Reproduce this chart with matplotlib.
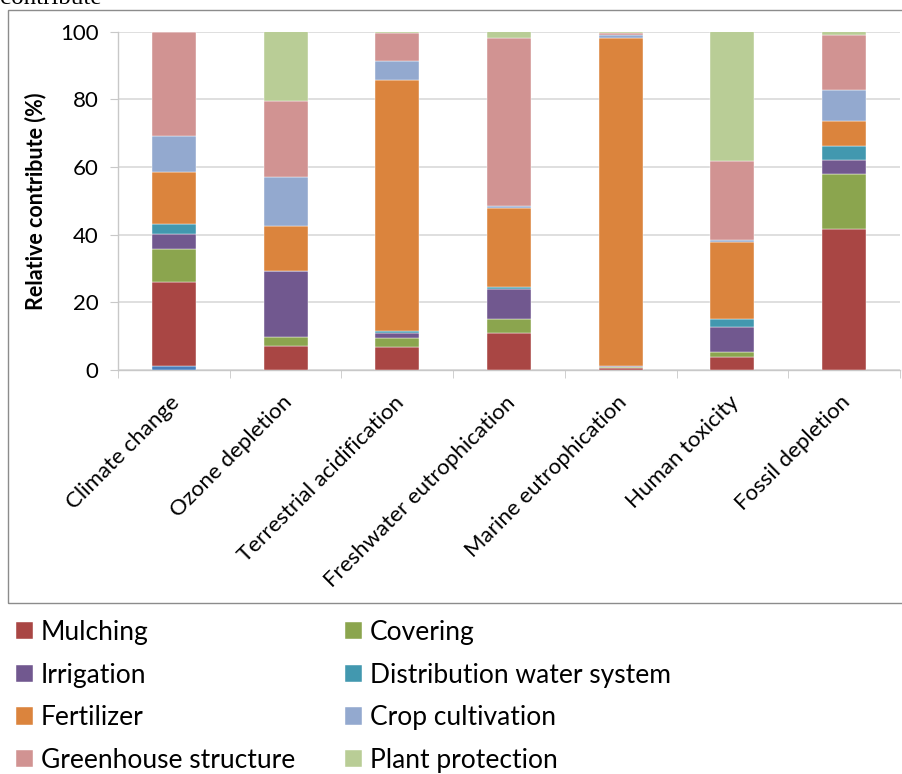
import matplotlib
matplotlib.use("Agg")
import matplotlib.pyplot as plt
import matplotlib.patches as mpatches
import matplotlib.transforms as mtransforms
import numpy as np

plt.rcParams['font.family'] = ['Lato', 'DejaVu Sans']

categories = ["Climate change", "Ozone depletion", "Terrestrial acidification",
              "Freshwater eutrophication", "Marine eutrophication",
              "Human toxicity", "Fossil depletion"]

# contribution of each phase (%), stacked bottom to top
other = [1.2, 0, 0, 0, 0, 0, 0]
mulching = [24.8, 7.1, 6.9, 10.8, 0.7, 3.7, 41.8]
covering = [9.7, 2.7, 2.6, 4.2, 0.3, 1.6, 16.1]
irrigation = [4.4, 19.4, 1.3, 9.0, 0.1, 7.5, 4.1]
distribution = [3.0, 0.0, 0.6, 0.4, 0.0, 2.4, 4.2]
fertilizer = [15.4, 13.4, 74.2, 23.6, 97.0, 22.5, 7.3]
crop = [10.7, 14.5, 5.8, 0.4, 0.8, 0.6, 9.3]
greenhouse = [30.8, 22.5, 8.1, 49.7, 0.8, 23.3, 16.3]
plant = [0.0, 20.4, 0.5, 1.9, 0.3, 38.4, 0.9]

series = [
    ("_other", other, "#4A7EBB"),
    ("Mulching", mulching, "#A94644"),
    ("Covering", covering, "#8BA54E"),
    ("Irrigation", irrigation, "#71588F"),
    ("Distribution water system", distribution, "#4298AF"),
    ("Fertilizer", fertilizer, "#DB843D"),
    ("Crop cultivation", crop, "#93A9CF"),
    ("Greenhouse structure", greenhouse, "#D19392"),
    ("Plant protection", plant, "#B9CD96"),
]

W, H = 903, 774
fig = plt.figure(figsize=(W / 100, H / 100), dpi=100)

def fx(px):
    return px / W

def fy(py):
    return 1 - py / H

# outer chart frame
frame = mpatches.Rectangle((fx(8), fy(603)), fx(905) - fx(8), fy(10) - fy(603),
                           transform=fig.transFigure, fill=False,
                           edgecolor="#8c8c8c", linewidth=1.0, zorder=0)
fig.patches.append(frame)

# caption fragment above the frame
fig.text(fx(0), fy(4), "contribute", family=["Liberation Serif"], fontsize=18,
         ha="left", va="baseline")

ax = fig.add_axes([fx(118), fy(370), fx(900) - fx(118), fy(31.5) - fy(370)])

x = np.arange(len(categories))
bottom = np.zeros(len(categories))
handles = {}
for name, vals, color in series:
    vals = np.array(vals, dtype=float)
    bars = ax.bar(x, vals, width=0.395, bottom=bottom, color=color,
                  edgecolor="white", linewidth=0.3, label=name, zorder=3)
    handles[name] = bars
    bottom += vals

ax.set_xlim(-0.5, len(categories) - 0.5)
ax.set_ylim(0, 100)
ax.set_yticks(np.arange(0, 101, 20))
ax.yaxis.grid(True, color="#d9d9d9", linewidth=1.2, zorder=0)
ax.set_axisbelow(True)

for s in ["top", "right"]:
    ax.spines[s].set_visible(False)
ax.spines["left"].set_color("#c8c8c8")
ax.spines["bottom"].set_color("#c8c8c8")
ax.spines["left"].set_linewidth(1.0)
ax.spines["bottom"].set_linewidth(1.0)

ax.tick_params(axis="y", length=6, color="#c8c8c8", labelsize=16, pad=8)
ax.set_xticks(x)
ax.set_xticks(np.arange(-0.5, len(categories), 1.0), minor=True)
ax.tick_params(axis="x", which="major", length=0, pad=16)
ax.tick_params(axis="x", which="minor", length=6, color="#c8c8c8")
ax.set_xticklabels(categories, rotation=45, ha="right", rotation_mode="anchor",
                   fontsize=16)
shift = mtransforms.ScaledTranslation(-4 / 100, 0, fig.dpi_scale_trans)
for lbl in ax.get_xticklabels():
    lbl.set_transform(lbl.get_transform() + shift)

ax.set_ylabel("Relative contribute (%)", fontsize=15.5, fontweight="bold",
              labelpad=10)

order = ["Mulching", "Irrigation", "Fertilizer", "Greenhouse structure",
         "Covering", "Distribution water system", "Crop cultivation",
         "Plant protection"]
leg = fig.legend([handles[n] for n in order], order, ncol=2,
                 loc="upper left", bbox_to_anchor=(fx(16), fy(620)),
                 frameon=False, fontsize=19, handlelength=0.64,
                 handleheight=0.64, handletextpad=0.3, columnspacing=1.9,
                 labelspacing=0.67, borderaxespad=0, borderpad=0)

fig.savefig("out.png", dpi=100)
